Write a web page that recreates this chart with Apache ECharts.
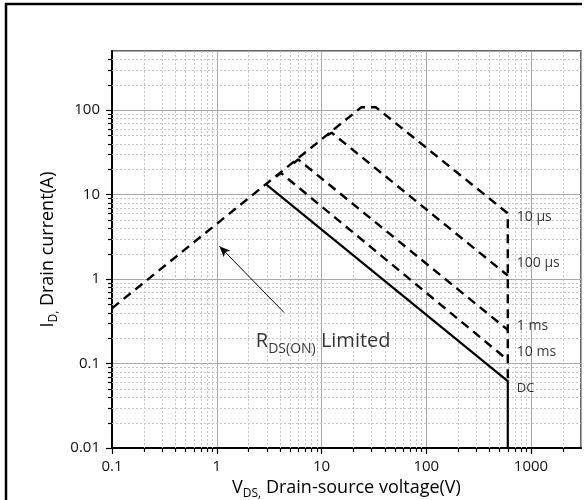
<!DOCTYPE html>
<html><head><meta charset="utf-8">
<script src="https://cdn.jsdelivr.net/npm/echarts@6/dist/echarts.min.js"></script>
<style>html,body{margin:0;padding:0;background:#fff}#c{width:586px;height:500px}</style>
</head><body><div id="c"></div>
<script>
// ---- data ----
const xTickLabels = [0.1, 1, 10, 100, 1000];
const yTickLabels = [0.01, 0.1, 1, 10, 100];
const minorMultipliers = [2, 3, 4, 5, 6, 7, 8, 9];
const xDecades = [0.1, 1, 10, 100, 1000];
const yDecades = [0.01, 0.1, 1, 10, 100];
const xRange = [0.1, 3000];
const yRange = [0.01, 500];

const rdsAnd10us = [[0.1, 0.45], [24, 108], [33, 108], [600, 6], [600, 0.065]];
const pulse100us = [[11.3, 50], [12.5, 54], [600, 1.1]];
const pulse1ms = [[5.4, 23.5], [6, 26], [600, 0.25]];
const pulse10ms = [[3.7, 16.3], [4.1, 18], [600, 0.11]];
const dcLine = [[3, 13], [600, 0.062], [600, 0.01]];

const curveNames = ['10 µs', '100 µs', '1 ms', '10 ms', 'DC'];
const curveLabelY = [5.4, 1.55, 0.276, 0.136, 0.051];
const curveLabelX = 600;

const arrowFrom = [4.4, 0.4];
const arrowTo = [1.06, 2.45];
const rdsLabelAt = [2.36, 0.185];

// ---- helpers ----
const FONT = 'Open Sans';
function minorList(decades, range) {
  const out = [];
  decades.forEach(d => minorMultipliers.forEach(m => {
    const v = +(d * m).toPrecision(6);
    if (v > range[0] && v < range[1]) out.push(v);
  }));
  return out;
}
const xMinor = minorList(xDecades, xRange);
const yMinor = minorList(yDecades, yRange);
function tickFmt(list) {
  return function (v) {
    for (const t of list) if (Math.abs(Math.log10(v) - Math.log10(t)) < 1e-6) return String(t);
    return '';
  };
}
const crisp = p => Math.round(p) + 0.5;

function renderMinorX(params, api) {
  const cs = params.coordSys;
  const x = crisp(api.coord([api.value(0), 1])[0]);
  const top = cs.y, bottom = cs.y + cs.height;
  return { type: 'group', children: [
    { type: 'line', shape: { x1: x, y1: top, x2: x, y2: bottom }, style: { stroke: '#c4c4c4', lineWidth: 1, lineDash: [2, 2] } },
    { type: 'line', shape: { x1: x, y1: bottom, x2: x, y2: bottom + 4 }, style: { stroke: '#000', lineWidth: 1.2 } }
  ]};
}
function renderMinorY(params, api) {
  const cs = params.coordSys;
  const y = crisp(api.coord([1, api.value(1)])[1]);
  const left = cs.x, right = cs.x + cs.width;
  return { type: 'group', children: [
    { type: 'line', shape: { x1: left, y1: y, x2: right, y2: y }, style: { stroke: '#c4c4c4', lineWidth: 1, lineDash: [2, 2] } },
    { type: 'line', shape: { x1: left - 4, y1: y, x2: left, y2: y }, style: { stroke: '#000', lineWidth: 1.2 } }
  ]};
}

const dashed = { color: '#000', width: 2.4, type: [9, 6] };
function lineSeries(data, style) {
  return { type: 'line', data: data, showSymbol: false, symbol: 'none', z: 5, silent: true,
    lineStyle: style, animation: false };
}

const chart = echarts.init(document.getElementById('c'), null, { renderer: 'canvas' });
chart.setOption({
  animation: false,
  backgroundColor: '#fff',
  grid: { left: 112, top: 51, right: 5, bottom: 52, show: true, borderColor: '#333', borderWidth: 1.5,
    containLabel: false, outerBoundsMode: 'none' },
  xAxis: {
    type: 'log', logBase: 10, min: xRange[0], max: xRange[1],
    axisLine: { onZero: false, lineStyle: { color: '#000', width: 2 } },
    axisTick: { length: 6, lineStyle: { color: '#000', width: 1.2 } },
    axisLabel: { formatter: tickFmt(xTickLabels), color: '#111', fontSize: 15, fontFamily: FONT, margin: 11, showMaxLabel: false },
    splitLine: { show: true, lineStyle: { color: '#a8a8a8', width: 1 } },
    name: '{m|V}{s|DS,}{m| Drain-source voltage(V)}',
    nameLocation: 'middle', nameGap: 28,
    nameTextStyle: { color: '#000', fontFamily: FONT, rich: {
      m: { fontSize: 18, fontFamily: FONT, color: '#000' },
      s: { fontSize: 12, fontFamily: FONT, color: '#000', padding: [12, 0, 0, 0] } } }
  },
  yAxis: {
    type: 'log', logBase: 10, min: yRange[0], max: yRange[1],
    axisLine: { onZero: false, lineStyle: { color: '#000', width: 2 } },
    axisTick: { length: 6, lineStyle: { color: '#000', width: 1.2 } },
    axisLabel: { formatter: tickFmt(yTickLabels), color: '#111', fontSize: 15, fontFamily: FONT, margin: 12, showMaxLabel: false },
    splitLine: { show: true, lineStyle: { color: '#a8a8a8', width: 1 } },
    name: '{m|I}{s|D,}{m| Drain current(A)}',
    nameLocation: 'middle', nameGap: 40, nameRotate: 90,
    nameTextStyle: { color: '#000', fontFamily: FONT, rich: {
      m: { fontSize: 18, fontFamily: FONT, color: '#000' },
      s: { fontSize: 12, fontFamily: FONT, color: '#000', padding: [12, 0, 0, 0] } } }
  },
  graphic: [{
    type: 'polyline', silent: true, z: 100,
    shape: { points: [[6, 500], [6, 4], [582, 4]] },
    style: { stroke: '#000', lineWidth: 2.5, fill: null }
  }],
  series: [
    { type: 'custom', renderItem: renderMinorX, data: xMinor.map(v => [v, 1]), z: 1, silent: true, clip: false, animation: false },
    { type: 'custom', renderItem: renderMinorY, data: yMinor.map(v => [1, v]), z: 1, silent: true, clip: false, animation: false },
    lineSeries(rdsAnd10us, dashed),
    lineSeries(pulse100us, dashed),
    lineSeries(pulse1ms, dashed),
    lineSeries(pulse10ms, dashed),
    Object.assign(lineSeries(dcLine, { color: '#000', width: 2.2, type: 'solid' }), {
      markLine: {
        silent: true, animation: false, symbol: ['none', 'arrow'], symbolSize: [7, 11],
        lineStyle: { color: '#000', width: 1, type: 'solid' }, label: { show: false },
        data: [[{ coord: arrowFrom }, { coord: arrowTo }]]
      }
    }),
    {
      type: 'scatter', symbolSize: 0, silent: true, z: 6, animation: false,
      data: curveNames.map((n, i) => ({ name: n, value: [curveLabelX, curveLabelY[i]],
        label: n === 'DC' ? { fontSize: 13 } : {} })),
      label: { show: true, position: 'right', distance: 9, formatter: p => p.name,
        color: '#000', fontSize: 14, fontFamily: FONT }
    },
    {
      type: 'scatter', symbolSize: 0, silent: true, z: 6, animation: false,
      data: [{ value: rdsLabelAt }],
      label: { show: true, position: 'right', distance: 0,
        formatter: '{m|R}{s|DS(ON)}{m| Limited}',
        rich: {
          m: { fontSize: 20, fontFamily: FONT, color: '#000' },
          s: { fontSize: 14, fontFamily: FONT, color: '#000', padding: [16, 0, 0, 0] } } }
    }
  ]
});
</script></body></html>
